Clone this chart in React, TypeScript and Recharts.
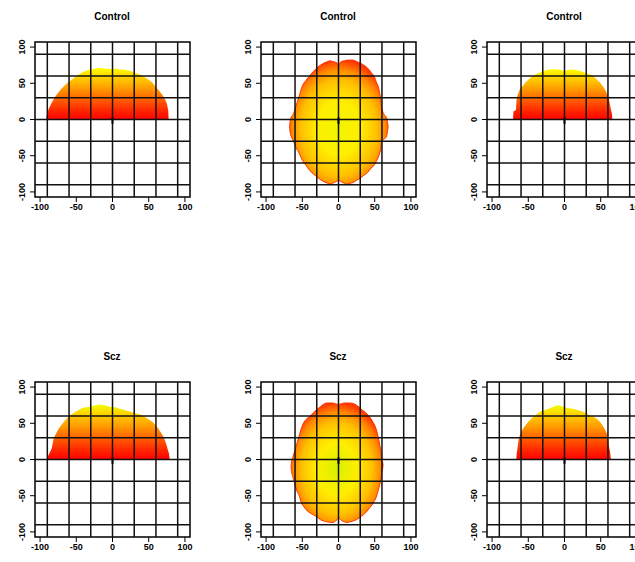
import React from 'react';
import { ComposedChart, Area, XAxis, YAxis, ReferenceLine, ReferenceArea } from 'recharts';

// ---- chart text / axes ----
const panelTitles = ['Control', 'Control', 'Control', 'Scz', 'Scz', 'Scz'];
const axisTicks = [-100, -50, 0, 50, 100];
const gridValues = [-90, -60, -30, 0, 30, 60, 90];

// ---- panel 1: control, left dome (upper contour over y = 0) ----
const ctrlLeftX = [-91.5, -91, -88, -84, -80, -75, -70, -65, -60, -55, -50, -45, -40, -35, -30, -25, -20, -15, -10, -5, 0, 5, 10, 15, 20, 25, 30, 35, 40, 45, 50, 55, 60, 65, 70, 73, 75, 77, 77.5];
const ctrlLeftTop = [0, 5, 15, 23, 30, 37, 43, 48, 52, 56, 60, 63, 66, 68, 69, 70, 71, 71, 70, 70, 70, 70, 69, 69, 68, 67, 65, 63, 61, 58, 55, 51, 45, 39, 32, 27, 22, 12, 0];

// ---- panel 2: control, axial outline (low / high per x) ----
const ctrlAxX = [-67.5, -67, -65, -62, -60, -55, -50, -45, -40, -35, -30, -25, -20, -15, -12, -8, -4, 0, 4, 8, 12, 16, 20, 25, 30, 35, 38, 42, 45, 50, 52, 55, 58, 60, 63, 66, 68, 68.5];
const ctrlAxLow = [-10, -16, -24, -30, -36, -45, -56, -63, -70, -75, -79, -83, -86, -88, -89, -88, -86, -84, -86, -88, -89, -88, -87, -84, -81, -77, -75, -71, -67, -62, -58, -52, -42, -30, -27, -24, -14, -10];
const ctrlAxHigh = [-10, -4, 4, 8, 15, 30, 46, 54, 60, 66, 71, 75, 78, 80, 81, 80, 79, 77, 80, 81, 82, 82, 82, 80, 78, 75, 73, 69, 65, 58, 52, 45, 30, 15, 7, 3, -6, -10];

// ---- panel 3: control, right dome ----
const ctrlRightX = [-71, -70.5, -67, -66, -62, -58, -54, -50, -43, -36, -29, -22, -15, -8, -3, 0, 3, 8, 12, 17, 22, 30, 38, 44, 49, 53, 56, 59, 61, 64, 65.5, 66];
const ctrlRightTop = [0, 11, 13, 30, 41, 46, 51, 55, 61, 64, 67, 69, 69.5, 69, 68, 66, 68, 69, 69, 68, 67, 64, 61, 56, 51, 46, 41, 35, 30, 14, 8, 0];

// ---- panel 4: scz, left dome ----
const sczLeftX = [-89.5, -89, -84, -81, -74, -67, -60, -51, -42, -33, -23, -17, -10, -4, 4, 10, 18, 25, 32, 38, 43, 49, 55, 59, 63, 67, 71, 74, 76, 78, 79];
const sczLeftTop = [0, 5, 15, 30, 43, 52, 60, 66, 71, 73, 75, 76, 75, 73, 72, 70, 68, 66, 64, 62, 60, 56, 52, 48, 43, 37, 30, 22, 15, 8, 0];

// ---- panel 5: scz, axial outline ----
const sczAxX = [-65.5, -65, -63, -61, -58, -55, -51, -48, -45, -39, -30, -25, -16, -8, -4, 0, 4, 8, 12, 16, 25, 32, 37, 42, 48, 52, 55, 58, 60, 61, 61.5];
const sczAxLow = [-10, -15, -24, -30, -42, -48, -60, -65, -69, -74, -79, -83, -86, -87, -85, -81, -84, -86, -87, -86, -83, -78, -74, -68, -60, -52, -42, -30, -18, -12, -8];
const sczAxHigh = [-10, -5, 3, 10, 20, 30, 44, 51, 55, 60, 69, 73, 78, 78, 77, 76, 77, 78, 78, 78, 75, 69, 65, 60, 51, 42, 30, 14, 0, -4, -8];

// ---- panel 6: scz, right dome ----
const sczRightX = [-66.5, -66, -65, -63, -57, -50, -43, -34, -22, -13, -8, -4, 0, 4, 12, 19, 26, 33, 40, 45, 49, 52, 55, 58, 60, 61, 63, 64];
const sczRightTop = [0, 8, 15, 30, 43, 52, 59, 66, 70, 74, 75, 74, 72, 71, 70, 68, 66, 62, 59, 56, 52, 48, 43, 37, 30, 20, 10, 0];

const dome = (xs: number[], tops: number[]) => xs.map((x, i) => ({ x, top: tops[i] }));
const axial = (xs: number[], lo: number[], hi: number[]) => xs.map((x, i) => ({ x, range: [lo[i], hi[i]] }));

const panels = [
  { kind: 'dome', data: dome(ctrlLeftX, ctrlLeftTop) },
  { kind: 'axial', data: axial(ctrlAxX, ctrlAxLow, ctrlAxHigh) },
  { kind: 'dome', data: dome(ctrlRightX, ctrlRightTop) },
  { kind: 'dome', data: dome(sczLeftX, sczLeftTop) },
  { kind: 'axial', data: axial(sczAxX, sczAxLow, sczAxHigh) },
  { kind: 'dome', data: dome(sczRightX, sczRightTop) },
];

const FONT = "'Liberation Sans Narrow', 'Liberation Sans', Arial, sans-serif";
const boxLefts = [34.5, 260.5, 486.5];
const boxTops = [41.5, 382];
const BOX = 155;
const W = 215;
const H = 230;

const YTick = (props: any) => {
  const { y, payload } = props;
  return (
    <text x={22} y={y} transform={`rotate(-90, 22, ${y})`} textAnchor="middle" dominantBaseline="central"
      fontSize={9} fontWeight="bold" fontFamily={FONT} fill="#000">
      {payload.value}
    </text>
  );
};

const Panel = ({ idx }: { idx: number }) => {
  const p = panels[idx];
  const gid = `fill${idx}`;
  const scz = idx >= 3;
  return (
    <ComposedChart width={W} height={H} data={p.data} margin={{ top: 42, right: 25, left: 0, bottom: 0 }}>
      <defs>
        <linearGradient id={`d${gid}`} x1="0" y1="0" x2="0" y2="1">
          <stop offset="0%" stopColor={scz ? '#EEFF00' : '#FFFF00'} />
          <stop offset="15%" stopColor="#FFD800" />
          <stop offset="40%" stopColor="#FF9A00" />
          <stop offset="60%" stopColor="#FF6200" />
          <stop offset="82%" stopColor="#FF2800" />
          <stop offset="100%" stopColor="#FF0000" />
        </linearGradient>
        <radialGradient id={`r${gid}`} cx="0.5" cy="0.55" r="0.55">
          <stop offset="0%" stopColor={scz ? '#D8F000' : '#F0F500'} />
          <stop offset="40%" stopColor="#FFEE00" />
          <stop offset="70%" stopColor="#FFC000" />
          <stop offset="86%" stopColor="#FF8A00" />
          <stop offset="100%" stopColor="#FF3A00" />
        </radialGradient>
      </defs>
      <XAxis type="number" dataKey="x" domain={[-107, 107]} ticks={axisTicks} allowDataOverflow height={33}
        axisLine={false} tickLine={{ stroke: '#000' }} tickSize={5} tickMargin={2}
        tick={{ fontSize: 9, fontWeight: 'bold', fill: '#000', fontFamily: FONT }} />
      <YAxis type="number" domain={[-107, 107]} ticks={axisTicks} allowDataOverflow width={35}
        axisLine={false} tickLine={{ stroke: '#000' }} tickSize={5} tick={<YTick />} />
      {p.kind === 'dome' ? (
        <Area type="linear" dataKey="top" baseValue={0} stroke="none" fill={`url(#d${gid})`} fillOpacity={1} isAnimationActive={false} />
      ) : (
        <Area type="monotone" dataKey="range" stroke="#FF3000" strokeWidth={1} fill={`url(#r${gid})`} fillOpacity={1} isAnimationActive={false} />
      )}
      {gridValues.map((v) => (
        <ReferenceLine key={`v${v}`} x={v} stroke="#111" strokeWidth={1.5} />
      ))}
      {gridValues.map((v) => (
        <ReferenceLine key={`h${v}`} y={v} stroke="#111" strokeWidth={1.5} />
      ))}
      <ReferenceLine segment={[{ x: 0, y: -6 }, { x: 0, y: 3 }]} stroke="#000" strokeWidth={2} />
      <ReferenceArea x1={-107} x2={107} y1={-107} y2={107} fill="none" stroke="#000" strokeWidth={1.5} />
    </ComposedChart>
  );
};

export default function App() {
  return (
    <div style={{ position: 'absolute', left: 0, top: 0, width: 635, height: 562, overflow: 'hidden', background: '#fff' }}>
      {panelTitles.map((t, i) => {
        const left = boxLefts[i % 3];
        const top = boxTops[Math.floor(i / 3)];
        return (
          <React.Fragment key={i}>
            <div style={{ position: 'absolute', left: left + BOX / 2 - 50, width: 100, top: top - 31, textAlign: 'center',
              fontFamily: FONT, fontWeight: 'bold', fontSize: 10, lineHeight: '12px', color: '#000' }}>{t}</div>
            <div style={{ position: 'absolute', left: left - 35, top: top - 42 }}>
              <Panel idx={i} />
            </div>
          </React.Fragment>
        );
      })}
    </div>
  );
}
